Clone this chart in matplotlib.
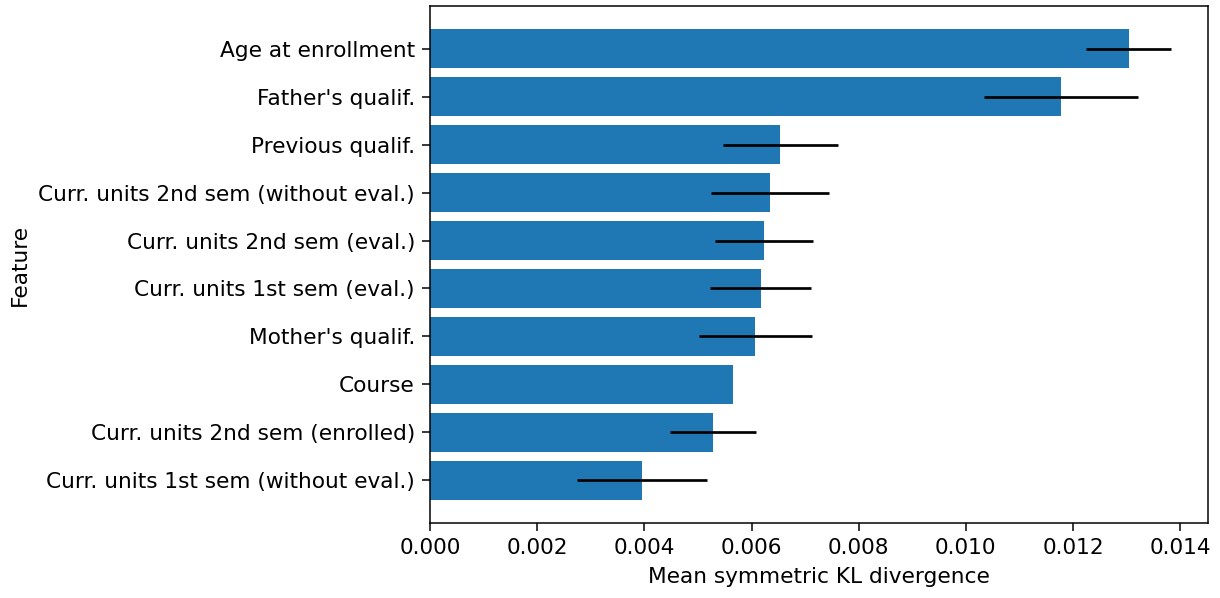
import matplotlib
matplotlib.use("Agg")
import matplotlib.pyplot as plt
import numpy as np

# Feature importances, listed from smallest to largest (bottom to top)
features = [
    "Curr. units 1st sem (without eval.)",
    "Curr. units 2nd sem (enrolled)",
    "Course",
    "Mother's qualif.",
    "Curr. units 1st sem (eval.)",
    "Curr. units 2nd sem (eval.)",
    "Curr. units 2nd sem (without eval.)",
    "Previous qualif.",
    "Father's qualif.",
    "Age at enrollment",
]
mean_kl = [0.00396, 0.00528, 0.00566, 0.00607, 0.00617,
           0.00623, 0.00635, 0.00654, 0.01178, 0.01304]
std_kl = [0.00121, 0.00080, 0.0, 0.00105, 0.00094,
          0.00091, 0.00110, 0.00107, 0.00144, 0.00079]

dpi = 156
fig = plt.figure(figsize=(1220 / dpi, 598 / dpi), dpi=dpi)
ax = fig.add_axes([0.3525, 0.1254, 0.9902 - 0.3525, 0.99 - 0.1254])

y = np.arange(len(features))
ax.barh(y, mean_kl, xerr=std_kl, color="#1f77b4",
        error_kw={"ecolor": "black", "elinewidth": 1.25, "capsize": 0})
ax.set_yticks(y)
ax.set_yticklabels(features)
ax.set_xticks(np.arange(0, 0.0141, 0.002))
ax.set_xlabel("Mean symmetric KL divergence")
ax.set_ylabel("Feature")
for side in ax.spines.values():
    side.set_linewidth(0.7)
ax.tick_params(width=0.7)

fig.savefig("out.png", dpi=dpi)
